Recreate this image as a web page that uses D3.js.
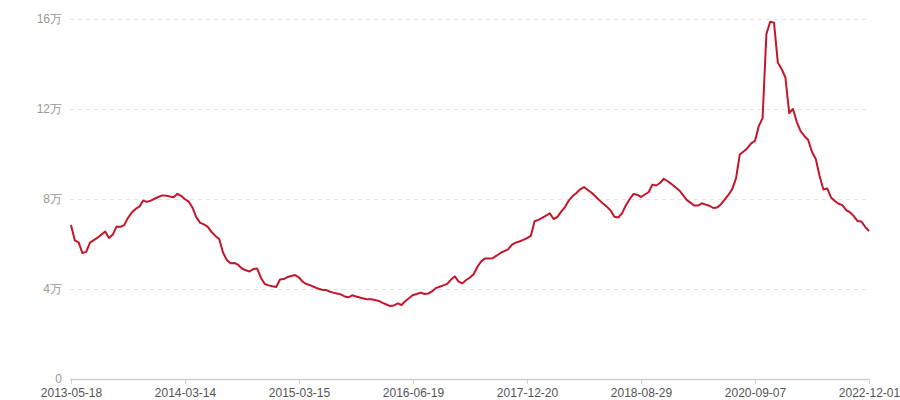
<!DOCTYPE html>
<html>
<head>
<meta charset="utf-8">
<script src="https://cdn.jsdelivr.net/npm/d3@7"></script>
<style>
  body { margin: 0; background: #fff; }
  svg { display: block; font-family: "Liberation Sans", "Noto Sans CJK SC", sans-serif; }
</style>
</head>
<body>
<svg id="chart"></svg>
<script>
// 价格（万），按采样点顺序
var values = [
  6.84, 6.16, 6.07, 5.6, 5.65, 6.06, 6.17, 6.28, 6.42, 6.55,
  6.27, 6.42, 6.78, 6.76, 6.84, 7.16, 7.4, 7.56, 7.66, 7.93,
  7.87, 7.93, 8.01, 8.09, 8.16, 8.15, 8.11, 8.08, 8.23, 8.14,
  7.99, 7.88, 7.61, 7.18, 6.94, 6.87, 6.76, 6.53, 6.36, 6.22,
  5.62, 5.29, 5.14, 5.16, 5.07, 4.91, 4.83, 4.78, 4.89, 4.91,
  4.49, 4.22, 4.16, 4.12, 4.09, 4.42, 4.44, 4.53, 4.58, 4.62,
  4.51, 4.32, 4.22, 4.16, 4.09, 4.02, 3.97, 3.96, 3.89, 3.84,
  3.8, 3.76, 3.67, 3.63, 3.72, 3.67, 3.62, 3.58, 3.54, 3.54,
  3.51, 3.47, 3.38, 3.31, 3.24, 3.27, 3.36, 3.29, 3.47, 3.6,
  3.73, 3.78, 3.84, 3.78, 3.8, 3.89, 4.04, 4.1, 4.16, 4.23,
  4.42, 4.56, 4.33, 4.25, 4.4, 4.51, 4.67, 5.0, 5.24, 5.36,
  5.36, 5.37, 5.48, 5.6, 5.68, 5.76, 5.96, 6.06, 6.11, 6.18,
  6.26, 6.36, 7.01, 7.07, 7.16, 7.26, 7.36, 7.11, 7.2, 7.44,
  7.64, 7.93, 8.13, 8.27, 8.43, 8.53, 8.4, 8.28, 8.12, 7.95,
  7.8, 7.66, 7.49, 7.21, 7.18, 7.36, 7.71, 7.99, 8.22, 8.19,
  8.09, 8.2, 8.3, 8.64, 8.6, 8.71, 8.9, 8.79, 8.67, 8.53,
  8.39, 8.19, 7.96, 7.84, 7.71, 7.71, 7.81, 7.75, 7.7, 7.6,
  7.62, 7.76, 7.97, 8.18, 8.44, 8.92, 9.98, 10.11, 10.26, 10.47,
  10.58, 11.24, 11.6, 15.33, 15.88, 15.84, 14.07, 13.78, 13.4, 11.82,
  12.0, 11.42, 11.02, 10.8, 10.62, 10.09, 9.78, 9.02, 8.42, 8.47,
  8.07, 7.91, 7.79, 7.73, 7.51, 7.41, 7.24, 7.02, 7.0, 6.76,
  6.58
];
var xLabels = ['2013-05-18', '2014-03-14', '2015-03-15', '2016-06-19',
               '2017-12-20', '2018-08-29', '2020-09-07', '2022-12-01'];
var yTicks = [0, 4, 8, 12, 16];

var width = 900;
var height = 400;
var plotLeft = 71, plotRight = 869, plotTop = 19, plotBottom = 379;

var svg = d3.select('#chart')
  .attr('width', width)
  .attr('height', height);

var x = d3.scaleLinear()
  .domain([0, values.length - 1])
  .range([plotLeft, plotRight]);

var y = d3.scaleLinear()
  .domain([0, 16])
  .range([plotBottom, plotTop]);

var labelStep = (values.length - 1) / (xLabels.length - 1);

// grid
svg.append('g')
  .selectAll('line')
  .data(yTicks.filter(function(d) { return d > 0; }))
  .enter().append('line')
  .attr('x1', plotLeft - 1)
  .attr('x2', plotRight + 1)
  .attr('y1', function(d) { return Math.round(y(d)) + 0.5; })
  .attr('y2', function(d) { return Math.round(y(d)) + 0.5; })
  .attr('stroke', '#e3e3e3')
  .attr('stroke-width', 1)
  .attr('stroke-dasharray', '4,4');

// y axis labels
var yAxis = svg.append('g')
  .attr('transform', 'translate(' + (plotLeft - 1) + ',0)')
  .call(d3.axisLeft(y)
    .tickValues(yTicks)
    .tickSize(0)
    .tickPadding(8)
    .tickFormat(function(d) { return d === 0 ? '0' : d + '万'; }));
yAxis.select('.domain').remove();
yAxis.selectAll('text')
  .attr('fill', '#999')
  .style('font-size', '12px');

// x axis
var xAxis = svg.append('g')
  .attr('transform', 'translate(0,' + plotBottom + ')')
  .call(d3.axisBottom(x)
    .tickValues(d3.range(xLabels.length).map(function(i) { return i * labelStep; }))
    .tickSize(5)
    .tickPadding(4)
    .tickFormat(function(d, i) { return xLabels[i]; }));
xAxis.select('.domain')
  .attr('d', 'M' + (plotLeft - 1) + ',0.5H' + (plotRight + 1))
  .attr('stroke', '#d0d0d0')
  .attr('stroke-width', 1.5);
xAxis.selectAll('.tick line').attr('stroke', '#d0d0d0');
xAxis.selectAll('text')
  .attr('fill', '#555')
  .style('font-size', '12px');

// line
var line = d3.line()
  .x(function(d, i) { return x(i); })
  .y(function(d) { return y(d); });

svg.append('path')
  .datum(values)
  .attr('fill', 'none')
  .attr('stroke', '#c4162a')
  .attr('stroke-width', 2)
  .attr('stroke-linejoin', 'round')
  .attr('d', line);
</script>
</body>
</html>
